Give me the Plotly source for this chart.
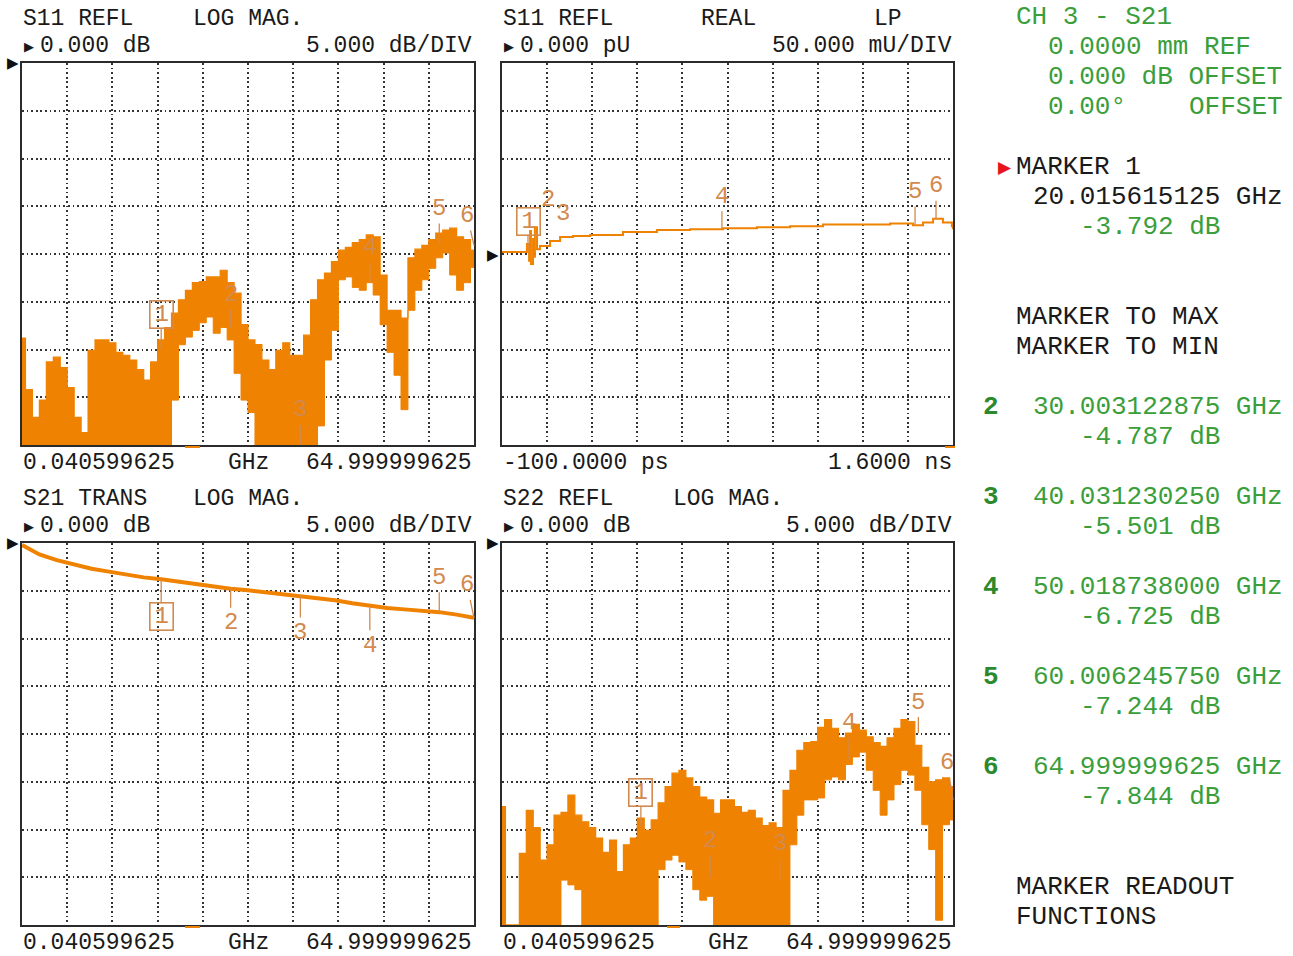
import plotly.graph_objects as go

W, H = 1293, 956

# ---------------- data ----------------
sweep_ghz = list(range(0, 66))  # readings every 1 GHz

s11_upper_db = [-28.8, -34.2, -37.1, -35.3, -31.3, -30.8, -31.9, -34.0, -37.1, -38.7,
                -30.1, -29.0, -29.0, -29.3, -30.3, -30.6, -31.1, -32.1, -33.2, -31.3,
                -29.0, -27.7, -26.2, -24.8, -23.8, -23.0, -22.9, -22.4, -22.4, -21.7,
                -23.0, -24.1, -27.4, -29.0, -29.5, -31.1, -32.1, -30.1, -29.3, -30.6,
                -30.6, -28.5, -24.8, -22.7, -22.0, -20.8, -19.6, -19.3, -18.8, -18.5,
                -18.0, -18.2, -22.2, -25.9, -25.9, -26.7, -20.4, -19.5, -19.1, -18.5,
                -17.8, -17.5, -17.3, -18.2, -18.5, -19.6]
s11_lower_db = [-40, -40, -40, -40, -40, -40, -40, -40, -40, -40,
                -40, -40, -40, -40, -40, -40, -40, -40, -40, -40,
                -40, -40, -35.3, -29.5, -28.7, -28.0, -27.2, -26.6, -28.3, -27.7,
                -29.0, -32.5, -35.3, -36.6, -40, -40, -40, -40, -40, -40,
                -40, -40, -40, -38.0, -31.1, -28.0, -22.7, -22.4, -23.5, -23.8,
                -23.0, -24.3, -27.4, -30.3, -32.7, -36.3, -25.9, -23.8, -22.7, -21.5,
                -20.4, -19.9, -22.2, -23.8, -23.0, -21.4]

s22_upper_db = [-27.6, -40, -40, -32.5, -28.0, -29.8, -33.2, -31.6, -28.5, -28.2,
                -26.4, -28.5, -29.2, -29.8, -30.9, -32.4, -31.1, -34.4, -31.6, -30.9,
                -28.8, -30.1, -29.0, -27.2, -25.5, -24.1, -23.8, -24.6, -25.5, -26.6,
                -26.9, -28.3, -26.9, -26.9, -27.6, -28.2, -28.0, -28.8, -29.6, -29.3,
                -29.8, -25.9, -23.8, -21.7, -20.9, -20.8, -19.3, -18.5, -19.4, -20.4,
                -19.9, -19.0, -19.6, -20.3, -20.9, -21.3, -20.4, -19.4, -18.5, -18.7,
                -21.2, -23.5, -25.0, -24.8, -24.6, -25.5]
s22_lower_db = [-40, -40, -40, -40, -40, -40, -40, -40, -40, -35.3,
                -35.8, -36.3, -40, -40, -40, -40, -40, -40, -40, -40,
                -40, -40, -40, -34.2, -33.2, -32.7, -33.4, -34.2, -36.3, -37.4,
                -37.0, -40, -40, -40, -40, -40, -40, -40, -40, -40,
                -40, -40, -31.6, -28.5, -26.9, -26.9, -26.7, -24.8, -24.5, -24.8,
                -23.2, -22.4, -21.9, -23.8, -25.9, -28.5, -26.9, -25.3, -23.8, -24.3,
                -25.9, -29.5, -32.1, -39.5, -29.5, -29.0]

s21_freq_ghz = [0, 2.5, 5, 7.5, 10, 12.5, 15, 17.5, 20, 22.5, 25, 27.5, 30, 32.5,
                35, 37.5, 40, 42.5, 45, 47.5, 50, 52.5, 55, 57.5, 60, 62.5, 65]
s21_db = [-0.2, -1.2, -1.8, -2.3, -2.7, -3.0, -3.3, -3.6, -3.79, -4.05, -4.3, -4.55, -4.79, -4.95,
          -5.15, -5.3, -5.50, -5.75, -6.0, -6.3, -6.6, -6.8, -6.95, -7.1, -7.24, -7.5, -7.84]

tdr_time_ns = [-0.1, -0.021, -0.006, 0.002, 0.006, 0.009, 0.017, 0.021, 0.024, 0.032, 0.043,
               0.081, 0.119, 0.168, 0.232, 0.356, 0.484, 0.609, 0.733, 0.861, 0.986, 1.110,
               1.238, 1.363, 1.449, 1.487, 1.525, 1.562, 1.596, 1.6]
tdr_real_mu = [2, 2, 10.5, -7, 24, -10.5, 15.7, -3, 28, 5, 8.4,
               13.6, 17.8, 18.8, 19.9, 23, 25, 26, 27, 28, 29, 31,
               31, 32, 30, 33, 37, 33, 29, 26]

marker_freq_ghz = [20.015615125, 30.003122875, 40.031230250, 50.018738000, 60.006245750, 64.999999625]
marker_s21_db = [-3.792, -4.787, -5.501, -6.725, -7.244, -7.844]
marker_s11_db = [-30.0, -27.7, -40.0, -23.0, -19.1, -19.1]
marker_s22_db = [-29.7, -35.0, -35.3, -22.7, -19.9, -26.9]
marker_tdr_ns = [-0.002, 0.073, 0.13, 0.729, 1.457, 1.536]
marker_tdr_mu = [5, 12, 18, 26, 31, 37]

start_label = "0.040599625"
stop_label = "64.999999625"
freq_unit = "GHz"
time_start_label = "-100.0000 ps"
time_stop_label = "1.6000 ns"

# ---------------- style ----------------
ORANGE = "#EF8200"
MK = "#D28A4E"
GRID = "#333333"
FRAME = "#2b2b2b"
GREEN = "#3A9E3A"
GREEN_B = "#2C8A2C"
INK = "#1a1a1a"
MONO = "Liberation Mono, DejaVu Sans Mono, monospace"
SYM = "DejaVu Sans"

# panel pixel boxes: (left, right, top, bottom)
BOX = {1: (22, 474, 63, 445), 2: (502, 953, 63, 445), 3: (22, 474, 543, 925), 4: (502, 953, 543, 925)}


def axes(n, xr, xdt, xt0, yr, ydt, yt0):
    l, r, t, b = BOX[n]
    common = dict(showgrid=True, gridcolor=GRID, gridwidth=1.7, griddash="1.7px,2.9px",
                  zeroline=False, showline=True, mirror=True, linecolor=FRAME, linewidth=2,
                  ticks="", showticklabels=False, fixedrange=True)
    sfx = "" if n == 1 else str(n)
    xa = dict(domain=[l / W, r / W], range=xr, dtick=xdt, tick0=xt0, anchor="y" + sfx, **common)
    ya = dict(domain=[1 - b / H, 1 - t / H], range=yr, dtick=ydt, tick0=yt0, anchor="x" + sfx, **common)
    return {"xaxis" + sfx: xa, "yaxis" + sfx: ya}


fig = go.Figure()


def band(lo, hi, n):
    sfx = "" if n == 1 else str(n)
    fig.add_trace(go.Scatter(x=sweep_ghz, y=lo, mode="lines", line=dict(color=ORANGE, width=1, shape="hvh"),
                             xaxis="x" + sfx, yaxis="y" + sfx, showlegend=False, hoverinfo="skip"))
    fig.add_trace(go.Scatter(x=sweep_ghz, y=hi, mode="lines", line=dict(color=ORANGE, width=1.2, shape="hvh"),
                             fill="tonexty", fillcolor=ORANGE,
                             xaxis="x" + sfx, yaxis="y" + sfx, showlegend=False, hoverinfo="skip"))


band(s11_lower_db, s11_upper_db, 1)
fig.add_trace(go.Scatter(x=tdr_time_ns, y=tdr_real_mu, mode="lines", line=dict(color=ORANGE, width=2, shape="hv"),
                         xaxis="x2", yaxis="y2", showlegend=False, hoverinfo="skip"))
fig.add_trace(go.Scatter(x=s21_freq_ghz, y=s21_db, mode="lines", line=dict(color=ORANGE, width=4),
                         xaxis="x3", yaxis="y3", showlegend=False, hoverinfo="skip"))
band(s22_lower_db, s22_upper_db, 4)

layout = dict(width=W, height=H, margin=dict(l=0, r=0, t=0, b=0), paper_bgcolor="white",
              plot_bgcolor="white", showlegend=False)
layout.update(axes(1, [0, 65], 6.5, 0, [-40, 0], 5, -40))
layout.update(axes(2, [-0.1, 1.6], 0.17, -0.1, [-200, 200], 50, -200))
layout.update(axes(3, [0, 65], 6.5, 0, [-40, 0], 5, -40))
layout.update(axes(4, [0, 65], 6.5, 0, [-40, 0], 5, -40))

ann = []


def txt(px, py, s, size=23, color=INK, anchor="left", family=MONO, bold=False):
    if bold:
        s = "<b>" + s + "</b>"
    ann.append(dict(x=px / W, y=1 - py / H, xref="paper", yref="paper", text=s, showarrow=False,
                    xanchor=anchor, yanchor="middle", borderpad=0,
                    font=dict(family=family, size=size, color=color)))


# markers on each panel
def markers(n, xs, ys, ax, ay, arrow_vis=None):
    sfx = "" if n == 1 else str(n)
    for i, (x, y) in enumerate(zip(xs, ys)):
        vis = True if arrow_vis is None else arrow_vis[i]
        a = dict(x=x, y=y, xref="x" + sfx, yref="y" + sfx, text=str(i + 1), showarrow=True,
                 arrowhead=0, arrowwidth=1.3, arrowcolor=MK if vis else "rgba(0,0,0,0)",
                 ax=ax[i], ay=ay[i], font=dict(family=MONO, size=24, color=MK), borderpad=1)
        if i == 0:
            a.update(bordercolor=MK, borderwidth=1.6, width=19, height=23, borderpad=1.5)
        ann.append(a)


markers(1, marker_freq_ghz, marker_s11_db, [0, 0, 0, 0, 0, -7], [-35, -33, -35, -35, -37, -30])
markers(2, marker_tdr_ns, marker_tdr_mu, [0, 0, 0, 0, 0, 0], [-28, -43, -23, -33, -33, -33],
        [True, False, False, True, True, True])
markers(3, marker_freq_ghz, marker_s21_db, [0, 0, 0, 0, 0, -7], [37, 34, 37, 38, -35, -33])
markers(4, marker_freq_ghz, marker_s22_db, [0, 0, 0, 0, 0, -6], [-34, -37, -37, -37, -31, -37])

# panel headers and footers
TRI = 13
txt(29, 46, "▶", size=TRI, family=SYM, anchor="center")
txt(509, 46, "▶", size=TRI, family=SYM, anchor="center")
txt(29, 526, "▶", size=TRI, family=SYM, anchor="center")
txt(509, 526, "▶", size=TRI, family=SYM, anchor="center")

txt(22, 19, "S11 REFL"); txt(192, 19, "LOG MAG.")
txt(39, 46, "0.000 dB"); txt(473, 46, "5.000 dB/DIV", anchor="right")
txt(22, 463, start_label); txt(248, 463, freq_unit, anchor="center"); txt(473, 463, stop_label, anchor="right")

txt(502, 19, "S11 REFL"); txt(700, 19, "REAL"); txt(873, 19, "LP")
txt(519, 46, "0.000 pU"); txt(953, 46, "50.000 mU/DIV", anchor="right")
txt(502, 463, time_start_label); txt(953, 463, time_stop_label, anchor="right")

txt(22, 499, "S21 TRANS"); txt(192, 499, "LOG MAG.")
txt(39, 526, "0.000 dB"); txt(473, 526, "5.000 dB/DIV", anchor="right")
txt(22, 943, start_label); txt(248, 943, freq_unit, anchor="center"); txt(473, 943, stop_label, anchor="right")

txt(502, 499, "S22 REFL"); txt(672, 499, "LOG MAG.")
txt(519, 526, "0.000 dB"); txt(953, 526, "5.000 dB/DIV", anchor="right")
txt(502, 943, start_label); txt(728, 943, freq_unit, anchor="center"); txt(953, 943, stop_label, anchor="right")

# reference position arrows
for px, py in [(13, 63), (13, 543), (493, 255), (493, 543)]:
    txt(px, py, "▶", size=15, family=SYM, anchor="center", color="#111")

# right-hand readout
R = 26
txt(1015, 17, "CH 3 - S21", size=R, color=GREEN)
txt(1047, 47, "0.0000 mm REF", size=R, color=GREEN)
txt(1047, 77, "0.000 dB OFFSET", size=R, color=GREEN)
txt(1047, 107, "0.00°", size=R, color=GREEN)
txt(1284, 107, "OFFSET", size=R, color=GREEN, anchor="right")
txt(1005, 167, "▶", size=17, family=SYM, anchor="center", color="#E8141B")
txt(1015, 167, "MARKER 1", size=R)
txt(1284, 197, f"{marker_freq_ghz[0]:.9f} GHz", size=R, anchor="right")
txt(1221, 227, f"{marker_s21_db[0]:.3f} dB", size=R, color=GREEN, anchor="right")
txt(1015, 317, "MARKER TO MAX", size=R)
txt(1015, 347, "MARKER TO MIN", size=R)
for k in range(1, 6):
    yy = 407 + 90 * (k - 1)
    txt(982, yy, str(k + 1), size=R, color=GREEN_B, bold=True)
    txt(1284, yy, f"{marker_freq_ghz[k]:.9f} GHz", size=R, color=GREEN, anchor="right")
    txt(1221, yy + 30, f"{marker_s21_db[k]:.3f} dB", size=R, color=GREEN, anchor="right")
txt(1015, 887, "MARKER READOUT", size=R)
txt(1015, 917, "FUNCTIONS", size=R)

# small orange stimulus ticks under the grids
shapes = []
for (x0, x1, y) in [(185, 200, 447), (945, 955, 447), (185, 200, 927), (667, 680, 927)]:
    shapes.append(dict(type="line", xref="paper", yref="paper", x0=x0 / W, x1=x1 / W,
                       y0=1 - y / H, y1=1 - y / H, line=dict(color=ORANGE, width=2)))

layout["annotations"] = ann
layout["shapes"] = shapes
fig.update_layout(**layout)
fig.write_html("out.html", config={"displayModeBar": False},
               post_script="document.body.style.margin='0px';")
